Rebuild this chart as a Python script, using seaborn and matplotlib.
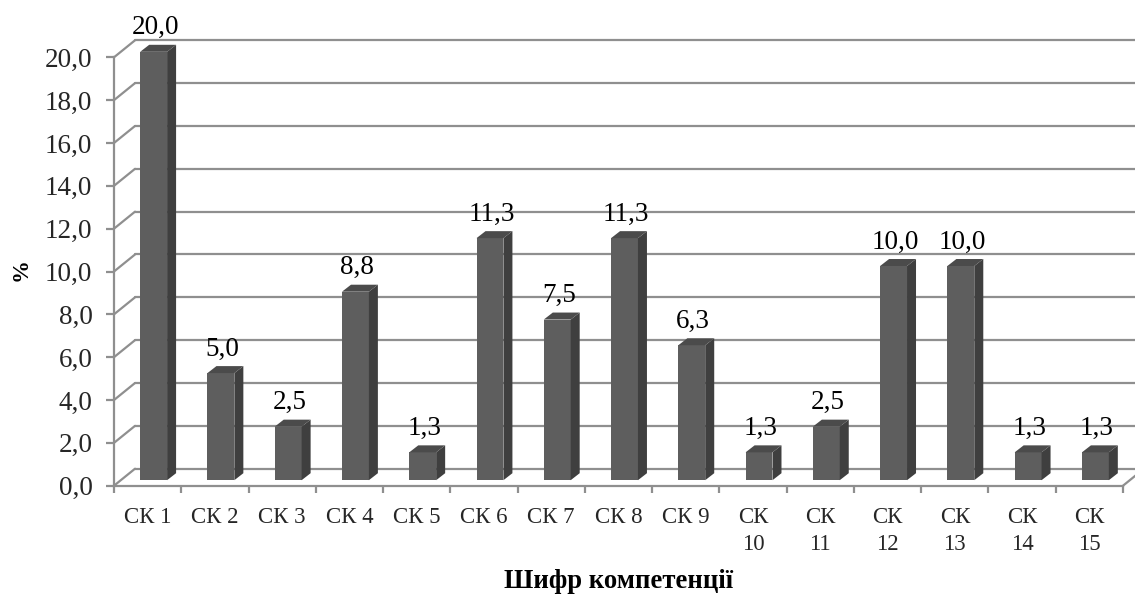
import matplotlib.pyplot as plt
import matplotlib.patches as mpatches
import matplotlib.transforms as mtrans
import numpy as np
import pandas as pd
import seaborn as sns

# Chart data
codes = ["СК 1", "СК 2", "СК 3", "СК 4", "СК 5", "СК 6", "СК 7", "СК 8", "СК 9",
         "СК\n10", "СК\n11", "СК\n12", "СК\n13", "СК\n14", "СК\n15"]
values = [20.0, 5.0, 2.5, 8.8, 1.3, 11.3, 7.5, 11.3, 6.3, 1.3, 2.5, 10.0, 10.0, 1.3, 1.3]
y_ticks = [0, 2, 4, 6, 8, 10, 12, 14, 16, 18, 20]

GRAY = "#8f8f8f"
FRONT = "#5e5e5e"
SIDE = "#3f3f3f"
TOP = "#4b4b4b"
DPI = 100
W, H = 1135, 594

sns.set_theme(style="white")
plt.rcParams["font.family"] = ["Liberation Serif", "DejaVu Serif"]
plt.rcParams["text.color"] = "black"

df = pd.DataFrame({"code": codes, "value": values})

fig = plt.figure(figsize=(W / DPI, H / DPI), dpi=DPI)
# axes = front plane of the fake 3D box
left, right, top, bottom = 114, 1123, 57.3, 485.7
ax = fig.add_axes([left / W, 1 - bottom / H, (right - left) / W, (bottom - top) / H])
sns.barplot(data=df, x="code", y="value", color=FRONT, width=0.4, saturation=1, ax=ax, zorder=3)
ax.set_xlim(-0.5, len(codes) - 0.5)
ax.set_ylim(0, 20)
ax.patch.set_alpha(0)

# back wall: grid lines and diagonals, in pixels relative to the front plane
back_dx, back_dy = 21, 17
back = ax.transData + mtrans.Affine2D().translate(back_dx, back_dy)
x_lo, x_hi = -0.5, len(codes) - 0.5
for t in y_ticks:
    ax.plot([x_lo, x_hi], [t, t], color=GRAY, lw=1.6, transform=back, clip_on=False, zorder=1)
    y0 = ax.transData.transform((x_lo, t))
    ax.add_line(plt.Line2D([y0[0], y0[0] + back_dx], [y0[1], y0[1] + back_dy], color=GRAY, lw=1.6,
                           transform=None, clip_on=False, zorder=1))
corner = ax.transData.transform((x_hi, 0))
ax.add_line(plt.Line2D([corner[0], corner[0] + back_dx], [corner[1], corner[1] + back_dy], color=GRAY,
                       lw=1.6, transform=None, clip_on=False, zorder=1))

# bars sit a little behind the front plane, with a side and a top face
bar_dx, bar_dy = 6, 5.5
depth_x, depth_y = 9, 7
shift = ax.transData + mtrans.Affine2D().translate(bar_dx, bar_dy)
to_px = shift.transform
for bar in ax.patches:
    x0, w, h = bar.get_x(), bar.get_width(), bar.get_height()
    bar.set_transform(shift)
    bar.set_edgecolor("none")
    bar.set_clip_on(False)
    (xa, ya), (xb, yb) = to_px((x0, 0)), to_px((x0 + w, h))
    side = [(xb, ya), (xb + depth_x, ya + depth_y), (xb + depth_x, yb + depth_y), (xb, yb)]
    cap = [(xa, yb), (xb, yb), (xb + depth_x, yb + depth_y), (xa + depth_x, yb + depth_y)]
    ax.add_patch(mpatches.Polygon(side, closed=True, fc=SIDE, ec="none", transform=None, zorder=3, clip_on=False))
    ax.add_patch(mpatches.Polygon(cap, closed=True, fc=TOP, ec="none", transform=None, zorder=3, clip_on=False))

# value labels with decimal commas
for i, v in enumerate(values):
    ax.annotate(f"{v:.1f}".replace(".", ","), xy=(i, v), xytext=(7.5, 23),
                textcoords="offset pixels", ha="center", va="baseline", fontsize=19.5, zorder=5)

# axes, ticks, labels
for name in ["top", "right"]:
    ax.spines[name].set_visible(False)
for name in ["left", "bottom"]:
    ax.spines[name].set_color(GRAY)
    ax.spines[name].set_linewidth(1.6)
    ax.spines[name].set_zorder(2)

ax.set_yticks(y_ticks)
ax.set_yticklabels([f"{t:.1f}".replace(".", ",") for t in y_ticks], fontsize=19.5)
ax.tick_params(axis="y", length=5.5, width=1.6, color=GRAY, pad=10, left=True)
ax.set_xticks(range(len(codes)))
ax.set_xticklabels(codes, fontsize=16.5, linespacing=1.4)
ax.tick_params(axis="x", which="major", length=0, pad=15, bottom=False)
ax.set_xticks(np.arange(len(codes) + 1) - 0.5, minor=True)
ax.tick_params(axis="x", which="minor", length=5, width=1.6, color=GRAY, bottom=True)

ax.set_xlabel("")
ax.set_ylabel("")
fig.text(619 / W, 1 - 582 / H, "Шифр компетенції", ha="center", va="center",
         fontsize=19.2, fontweight="bold")
fig.text(21 / W, 1 - 270 / H, "%", ha="center", va="center", rotation=90,
         fontsize=16.5, fontweight="bold")

fig.savefig("out.png", dpi=DPI, facecolor="white")
